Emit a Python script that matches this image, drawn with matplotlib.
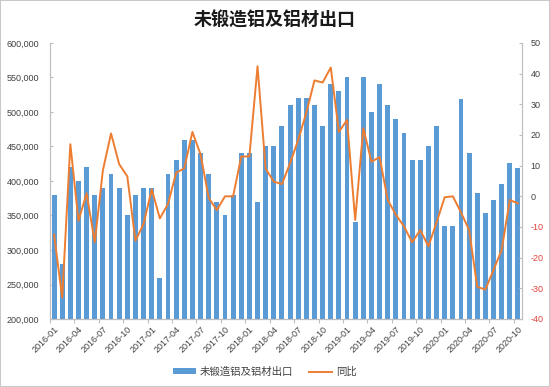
import matplotlib
matplotlib.use("Agg")
import matplotlib.pyplot as plt
import numpy as np

months = [f"{y}-{m:02d}" for y in range(2016, 2021) for m in range(1, 13)][:58]

exports = [380000, 280000, 420000, 400000, 420000, 380000, 390000, 410000, 390000, 350000, 380000, 390000,
           390000, 260000, 410000, 430000, 460000, 460000, 440000, 410000, 370000, 350000, 380000, 440000,
           440000, 370000, 450000, 450000, 480000, 510000, 520000, 520000, 510000, 480000, 540000, 530000,
           550000, 340000, 550000, 500000, 540000, 510000, 490000, 470000, 430000, 430000, 450000, 480000,
           335000, 335000, 519000, 441000, 382000, 353000, 372000, 395000, 426000, 419000]

yoy = [-12.5, -33, 17, -8, 1, -15, 8.5, 20.5, 10.5, 6.5, -14.5, -9,
       2.3, -7.2, -2.5, 7.7, 9.1, 21, 13.7, -0.5, -4.5, 0, 0, 13,
       13, 42.4, 9, 4.8, 4, 10.8, 18.4, 27.3, 37.8, 37.1, 42, 21,
       24.9, -7.7, 22.2, 11.3, 12.8, -1.2, -6, -9.8, -15, -11, -16.3, -8.5,
       -0.3, 0, -5.2, -11, -29.5, -30.4, -24, -17.5, -1.2, -2.3]

title = "未锻造铝及铝材出口"
bar_label = "未锻造铝及铝材出口"
line_label = "同比"

left_ticks = [200000, 250000, 300000, 350000, 400000, 450000, 500000, 550000, 600000]
right_ticks = [-40, -30, -20, -10, 0, 10, 20, 30, 40, 50]

plt.rcParams['font.family'] = ['Liberation Sans', 'Noto Sans CJK SC', 'DejaVu Sans']
cjk = ['Noto Sans CJK SC', 'DejaVu Sans']

fig = plt.figure(figsize=(5.5, 3.87), dpi=100, facecolor='white', edgecolor='#C8C8C8', linewidth=1.2)
ax = fig.add_axes([50/550, 1-319/387, (522-50)/550, (319-43)/387])
ax2 = ax.twinx()

x = np.arange(len(months))
bars = ax.bar(x, exports, width=0.6, color='#5B9BD5', label=bar_label, zorder=2)
line, = ax2.plot(x, yoy, color='#ED7D31', linewidth=1.4, label=line_label, zorder=3)

ax.set_xlim(-0.5, len(months) - 0.5)
ax.set_ylim(200000, 600000)
ax2.set_ylim(-40, 50)

ax.set_yticks(left_ticks)
ax.set_yticklabels([f"{v:,}" for v in left_ticks], fontsize=6.5, color='#404040')
ax2.set_yticks(right_ticks)
ax2.set_yticklabels([str(v) for v in right_ticks], fontsize=6.5)
for lbl, v in zip(ax2.get_yticklabels(), right_ticks):
    lbl.set_color('#E0403A' if v < 0 else '#404040')

# x ticks: marks at category boundaries every 3, labels at category centers
ax.set_xticks(np.arange(-0.5, len(months), 3))
ax.set_xticklabels([])
ax.set_xticks(np.arange(0, len(months), 3), minor=True)
ax.set_xticklabels([months[i] for i in range(0, len(months), 3)], minor=True,
                   rotation=45, ha='right', rotation_mode='anchor', fontsize=6.5, color='#404040')
ax.tick_params(axis='x', which='major', direction='out', length=3, color='#BFBFBF')
ax.tick_params(axis='x', which='minor', length=0, pad=4)
ax.tick_params(axis='y', direction='in', length=2.5, color='#BFBFBF', pad=8)
ax2.tick_params(axis='y', direction='in', length=2.5, color='#BFBFBF', pad=6)

for a in (ax, ax2):
    for s in ('top',):
        a.spines[s].set_visible(False)
    for s in ('left', 'right', 'bottom'):
        a.spines[s].set_color('#BFBFBF')
        a.spines[s].set_linewidth(0.8)

fig.text(275/550, 1-20/387, title, ha='center', va='center', fontsize=13, fontweight='bold',
         family=cjk, color='#1a1a1a')

leg = fig.legend([bars, line], [bar_label, line_label], loc='center', bbox_to_anchor=(265/550, 1-372/387),
                 ncol=2, frameon=False, prop={'family': cjk, 'size': 7.5}, handlelength=2.2,
                 handleheight=0.5, columnspacing=1.5, handletextpad=0.4)
for t in leg.get_texts():
    t.set_color('#404040')

fig.savefig('out.png', dpi=100)
